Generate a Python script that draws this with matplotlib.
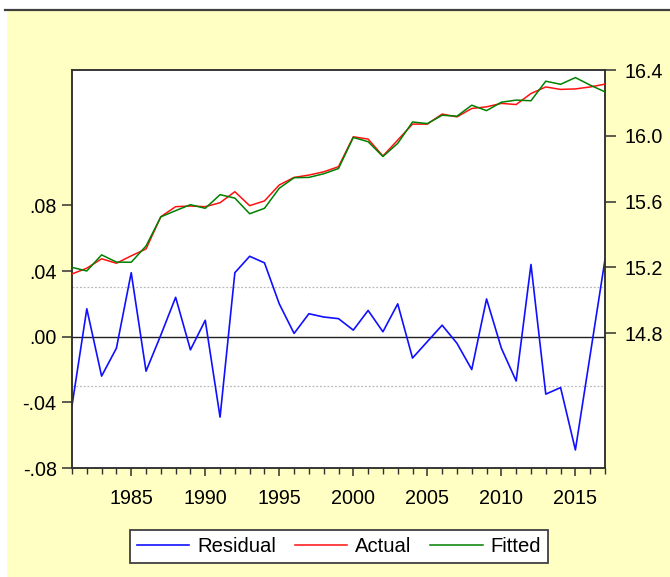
import numpy as np
import matplotlib
matplotlib.use("Agg")
import matplotlib.pyplot as plt
from matplotlib.lines import Line2D
from matplotlib.patches import Rectangle

plt.rcParams["font.family"] = ["Liberation Sans", "DejaVu Sans"]

years = np.arange(1981, 2018)

residual = [-0.042, 0.017, -0.024, -0.007, 0.039, -0.021, 0.001, 0.024, -0.008, 0.010,
            -0.049, 0.039, 0.049, 0.045, 0.020, 0.002, 0.014, 0.012, 0.011, 0.004,
            0.016, 0.003, 0.020, -0.013, -0.003, 0.007, -0.004, -0.020, 0.023, -0.007,
            -0.027, 0.044, -0.035, -0.031, -0.069, -0.011, 0.047]

actual = [15.160, 15.195, 15.252, 15.225, 15.270, 15.312, 15.508, 15.569, 15.573, 15.569,
          15.593, 15.660, 15.575, 15.604, 15.701, 15.747, 15.761, 15.781, 15.812, 15.994,
          15.980, 15.877, 15.974, 16.071, 16.071, 16.132, 16.115, 16.166, 16.176, 16.197,
          16.190, 16.257, 16.297, 16.282, 16.285, 16.297, 16.314]

fitted = [15.200, 15.178, 15.276, 15.232, 15.231, 15.330, 15.507, 15.545, 15.581, 15.559,
          15.642, 15.621, 15.526, 15.559, 15.681, 15.745, 15.747, 15.769, 15.801, 15.990,
          15.964, 15.874, 15.954, 16.084, 16.074, 16.125, 16.119, 16.186, 16.153, 16.204,
          16.217, 16.213, 16.332, 16.313, 16.354, 16.308, 16.267]

# residual standard error band
band = 0.030

left_ticks = [-0.08, -0.04, 0.00, 0.04, 0.08]
left_labels = ["-.08", "-.04", ".00", ".04", ".08"]
right_ticks = [14.8, 15.2, 15.6, 16.0, 16.4]
right_labels = ["14.8", "15.2", "15.6", "16.0", "16.4"]
year_ticks = [1985, 1990, 1995, 2000, 2005, 2010, 2015]

W, H = 670, 577
fig = plt.figure(figsize=(W / 100, H / 100), dpi=100)
fig.patch.set_facecolor("white")

# pale yellow frame background with dark rule on top
fig.add_artist(Rectangle((7 / W, 0), 1 - 7 / W, (H - 11) / H, transform=fig.transFigure,
                         facecolor="#FFFFC4", edgecolor="none", zorder=-10))
fig.add_artist(Line2D([5 / W, 1], [(H - 10) / H] * 2, transform=fig.transFigure,
                      color="#404040", lw=1.6))

left, right, top, bottom = 72, 605, 70, 468
ax = fig.add_axes([left / W, 1 - bottom / H, (right - left) / W, (bottom - top) / H])
ax.set_facecolor("white")
ax2 = ax.twinx()

fs = 14.2
spine_col = "#303030"

ax.axhline(0, color="#202020", lw=1.0, zorder=1)
ax.axhline(band, color="#B8B8B8", lw=0.9, ls=(0, (1.5, 1.5)), zorder=1)
ax.axhline(-band, color="#B8B8B8", lw=0.9, ls=(0, (1.5, 1.5)), zorder=1)
l_res, = ax.plot(years, residual, color="#1010FF", lw=1.2, zorder=2)

l_act, = ax2.plot(years, actual, color="#FF1010", lw=1.1, zorder=3)
l_fit, = ax2.plot(years, fitted, color="#008000", lw=1.1, zorder=4)

ax.set_xlim(1981, 2017)
ax.set_ylim(-0.08, 0.1625)
ax2.set_ylim(13.98, 16.4)

ax.set_yticks(left_ticks)
ax.set_yticklabels(left_labels)
ax2.set_yticks(right_ticks)
ax2.set_yticklabels(right_labels)
ax.set_xticks(year_ticks)
ax.set_xticklabels([str(y) for y in year_ticks])
ax.set_xticks(years, minor=True)

ax.tick_params(axis="y", direction="out", length=7, width=1.1, color=spine_col,
               labelsize=fs, pad=4)
ax2.tick_params(axis="y", direction="out", length=8, width=1.1, color=spine_col,
                labelsize=fs, pad=6)
ax.tick_params(axis="x", which="major", direction="out", length=6, width=1.1,
               color=spine_col, labelsize=fs, pad=9)
ax.tick_params(axis="x", which="minor", direction="out", length=4, width=1.0,
               color=spine_col)

for a in (ax, ax2):
    for s in a.spines.values():
        s.set_color(spine_col)
        s.set_linewidth(1.1)

fig.legend([l_res, l_act, l_fit], ["Residual", "Actual", "Fitted"],
           loc="center", bbox_to_anchor=(339 / W, (H - 546.5) / H), ncol=3,
           fontsize=14.6, frameon=True, fancybox=False, framealpha=1,
           edgecolor="#404040", handlelength=2.6, handletextpad=0.4,
           columnspacing=0.9, borderpad=0.35)
fig.legends[0].get_frame().set_linewidth(1.3)

fig.savefig("out.png", dpi=100)
